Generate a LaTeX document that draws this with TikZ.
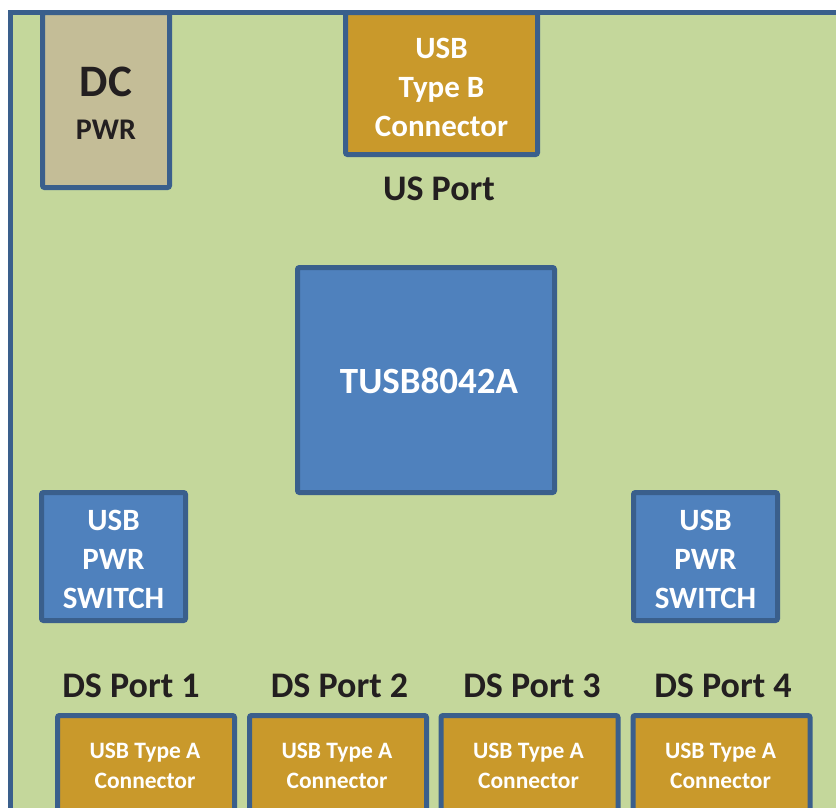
\documentclass[tikz,border=0pt]{standalone}
\usepackage{fontspec}
\setmainfont{Carlito}
\definecolor{board}{HTML}{C4D79B}
\definecolor{edge}{HTML}{3A5F8C}
\definecolor{chip}{HTML}{4F81BD}
\definecolor{gold}{HTML}{C9992B}
\definecolor{tan}{HTML}{C4BD97}
\definecolor{ink}{HTML}{231F20}
\tikzset{
  blk/.style={draw=edge, line width=5pt, rounded corners=2pt, inner sep=0pt},
  goldbox/.style={blk, fill=gold},
  bluebox/.style={blk, fill=chip},
  intext/.style={inner sep=0pt, align=center, text=white, font=\bfseries\fontsize{31}{39}\selectfont},
  portlbl/.style={text=ink, font=\bfseries\fontsize{36}{40}\selectfont, inner sep=0pt},
  abox/.style={goldbox, minimum width=177pt, minimum height=100pt},
  atext/.style={intext, font=\bfseries\fontsize{23.5}{30}\selectfont}
}
\begin{document}
\begin{tikzpicture}[x=1pt,y=-1pt]
\useasboundingbox (0,0) rectangle (836,807);
\clip (0,0) rectangle (836,807);
% board
\draw[draw=edge, line width=5pt, fill=board] (10,12.5) rectangle (900,900);
% DC power
\node[blk, fill=tan, minimum width=127pt, minimum height=175pt] (dc) at (106,100) {};
\node[text=ink, font=\bfseries\fontsize{45}{50}\selectfont, inner sep=0pt] (dct) at (106,82) {DC};
\node[text=ink, font=\bfseries\fontsize{30}{36}\selectfont, inner sep=0pt] (pwrt) at (106,130) {PWR};
% USB type B
\node[goldbox, minimum width=192pt, minimum height=142pt] (usbb) at (441.5,83.5) {};
\node[intext] (usbbt) at (441.5,87) {USB\\Type B\\Connector};
\node[portlbl] (usp) at (439,189) {US Port};
% hub
\node[bluebox, minimum width=257pt, minimum height=225pt] (tusb) at (426,380) {};
\node[intext, font=\bfseries\fontsize{37}{40}\selectfont] (tusbt) at (429,381) {TUSB8042A};
% power switches
\node[bluebox, minimum width=144pt, minimum height=128pt] (sw1) at (113.5,556.5) {};
\node[intext] (sw1t) at (113.5,559) {USB\\PWR\\SWITCH};
\node[bluebox, minimum width=144pt, minimum height=128pt] (sw2) at (705.5,556.5) {};
\node[intext] (sw2t) at (705.5,559) {USB\\PWR\\SWITCH};
% DS port labels
\node[portlbl] (ds1) at (131,686) {DS Port 1};
\node[portlbl] (ds2) at (339.5,686) {DS Port 2};
\node[portlbl] (ds3) at (532,686) {DS Port 3};
\node[portlbl] (ds4) at (723,686) {DS Port 4};
% type A connectors
\node[abox] (a1) at (146,765.5) {};
\node[atext] (a1t) at (145,766) {USB Type A\\Connector};
\node[abox] (a2) at (338,765.5) {};
\node[atext] (a2t) at (337,766) {USB Type A\\Connector};
\node[abox] (a3) at (529.5,765.5) {};
\node[atext] (a3t) at (528.5,766) {USB Type A\\Connector};
\node[abox] (a4) at (721.5,765.5) {};
\node[atext] (a4t) at (720.5,766) {USB Type A\\Connector};
\end{tikzpicture}
\end{document}
